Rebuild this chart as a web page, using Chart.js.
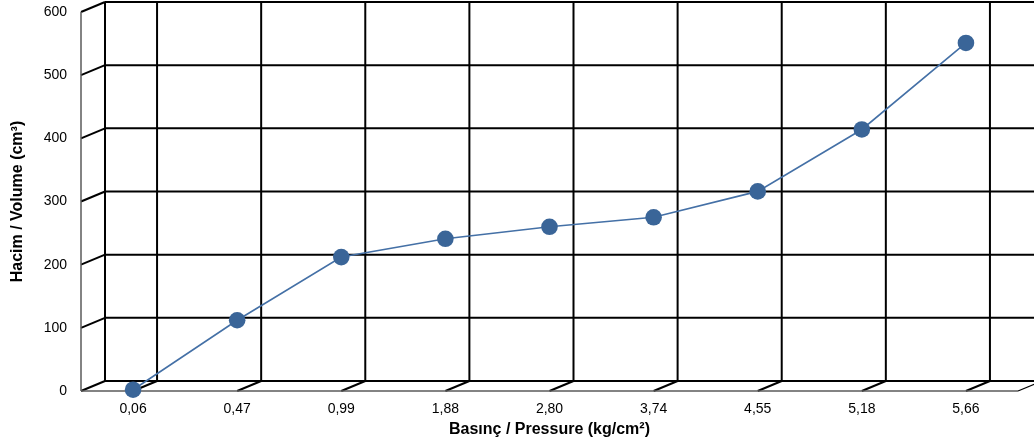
<!DOCTYPE html>
<html>
<head>
<meta charset="utf-8">
<script src="https://cdn.jsdelivr.net/npm/chart.js@4/dist/chart.umd.min.js"></script>
<style>
html,body{margin:0;padding:0;background:#fff;}
#wrap{width:1034px;height:445px;position:relative;}
</style>
</head>
<body>
<div id="wrap"><canvas id="c" width="1034" height="445"></canvas></div>
<script>
const categories = ['0,06','0,47','0,99','1,88','2,80','3,74','4,55','5,18','5,66'];
const volumes = [2, 112, 212, 241, 260, 275, 316, 414, 551];
const yMin = 0, yMax = 600, yStep = 100;
const xTitle = 'Basınç / Pressure (kg/cm²)';
const yTitle = 'Hacim / Volume (cm³)';

const DX = 24, DY = -10;

const grid3d = {
  id: 'grid3d',
  beforeDatasetsDraw(chart) {
    const {ctx, chartArea: a, scales: {x, y}} = chart;
    const line = (x1, y1, x2, y2) => { ctx.beginPath(); ctx.moveTo(x1, y1); ctx.lineTo(x2, y2); ctx.stroke(); };
    ctx.save();
    ctx.strokeStyle = '#000';
    ctx.lineWidth = 2;
    y.ticks.forEach(t => {
      const py = y.getPixelForValue(t.value) + DY;
      line(a.left + DX, py, a.right + DX + 40, py);
    });
    line(a.left + DX, a.top + DY, a.left + DX, a.bottom + DY);
    categories.forEach((c, i) => {
      const px = x.getPixelForValue(i) + DX;
      line(px, a.top + DY, px, a.bottom + DY);
    });
    y.ticks.forEach(t => {
      const py = y.getPixelForValue(t.value);
      line(a.left, py, a.left + DX, py + DY);
    });
    categories.forEach((c, i) => {
      const px = x.getPixelForValue(i);
      line(px, a.bottom, px + DX, a.bottom + DY);
    });
    ctx.lineWidth = 1.3;
    line(a.right, a.bottom, a.right + DX, a.bottom + DY);
    ctx.strokeStyle = '#5a5a5a';
    ctx.lineWidth = 1.5;
    line(a.left, a.top, a.left, a.bottom);
    line(a.left, a.bottom, a.right, a.bottom);
    ctx.restore();
  }
};

new Chart(document.getElementById('c'), {
  type: 'line',
  data: {
    labels: categories,
    datasets: [{
      data: volumes,
      borderColor: '#4470a6',
      borderWidth: 1.6,
      backgroundColor: '#3a6598',
      pointBackgroundColor: '#3a6598',
      pointBorderWidth: 0,
      pointRadius: 8.3,
      pointHoverRadius: 8.3,
      tension: 0,
      clip: false
    }]
  },
  options: {
    responsive: false,
    animation: false,
    devicePixelRatio: 1,
    layout: {padding: {left: 0, right: 16, top: 12, bottom: 0}},
    plugins: {legend: {display: false}, tooltip: {enabled: false}},
    scales: {
      x: {
        type: 'category',
        offset: true,
        grid: {display: false, drawTicks: false},
        border: {display: false},
        ticks: {color: '#000', font: {family: 'Liberation Sans, Arial', size: 14}, padding: 10, maxRotation: 0, autoSkip: false},
        title: {display: true, text: xTitle, color: '#000', font: {family: 'Liberation Sans, Arial', size: 16, weight: 'bold'}, padding: {top: 0, bottom: 6}},
        afterFit(s) { s.height = 54; s.paddingLeft = 0; s.paddingRight = 0; }
      },
      y: {
        min: yMin, max: yMax,
        grid: {display: false, drawTicks: false},
        border: {display: false},
        ticks: {stepSize: yStep, color: '#000', font: {family: 'Liberation Sans, Arial', size: 14}, padding: 14},
        title: {display: true, text: yTitle, color: '#000', font: {family: 'Liberation Sans, Arial', size: 16, weight: 'bold'}, padding: {top: 8, bottom: 0}},
        afterFit(s) { s.width = 81; s.paddingTop = 0; s.paddingBottom = 0; }
      }
    }
  },
  plugins: [grid3d]
});
</script>
</body>
</html>
